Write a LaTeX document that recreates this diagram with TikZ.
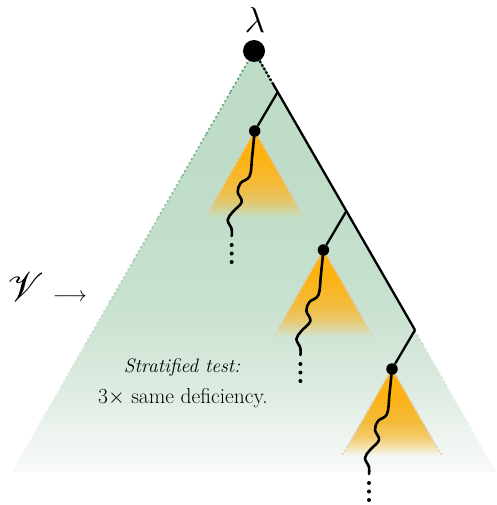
\documentclass[tikz,border=0pt]{standalone}
\usepackage{fix-cm}
\usepackage{mathrsfs}
\usepackage{graphicx}
\usetikzlibrary{calc}
\definecolor{gA}{RGB}{190,220,200}
\definecolor{gB}{RGB}{200,225,208}
\definecolor{gM}{RGB}{218,234,222}
\definecolor{gL}{RGB}{236,243,238}
\definecolor{gC}{RGB}{248,250,248}
\definecolor{gdot}{RGB}{85,155,108}
\definecolor{orA}{RGB}{253,178,18}
\definecolor{orB}{RGB}{244,186,56}
\definecolor{ordot}{RGB}{212,132,24}
\definecolor{greydot}{RGB}{165,170,150}
\definecolor{bgOne}{RGB}{194,222,203}
\definecolor{bgTwo}{RGB}{208,229,214}
\definecolor{bgThree}{RGB}{243,248,243}
\pgfdeclareverticalshading{gfade}{100bp}{color(0bp)=(gC); color(25bp)=(gC); color(30bp)=(gL); color(36bp)=(gM); color(45bp)=(gB); color(62bp)=(gA); color(100bp)=(gA)}
\pgfdeclareverticalshading{ofadeOne}{100bp}{color(0bp)=(bgOne); color(25bp)=(bgOne); color(30bp)=(orB!35!bgOne); color(36bp)=(orB!72!bgOne); color(45bp)=(orB); color(60bp)=(orA); color(100bp)=(orA)}
\pgfdeclareverticalshading{ofadeTwo}{100bp}{color(0bp)=(bgTwo); color(25bp)=(bgTwo); color(30bp)=(orB!35!bgTwo); color(36bp)=(orB!72!bgTwo); color(45bp)=(orB); color(60bp)=(orA); color(100bp)=(orA)}
\pgfdeclareverticalshading{ofadeThree}{100bp}{color(0bp)=(bgThree); color(25bp)=(bgThree); color(30bp)=(orB!35!bgThree); color(36bp)=(orB!72!bgThree); color(45bp)=(orB); color(60bp)=(orA); color(100bp)=(orA)}
\newcommand{\fadeedge}[5]{%
  \foreach \k in {0,...,9}{%
    \pgfmathsetmacro\fdA{\k/10}%
    \pgfmathsetmacro\fdB{(\k+1)/10}%
    \pgfmathtruncatemacro\fdM{100-\k*100/9}%
    \draw[#5, color=#3!\fdM!#4] ($(#1)!\fdA!(#2)$) -- ($(#1)!\fdB!(#2)$);
  }}
\tikzset{
  spine/.style={line width=2.3pt},
  spinedots/.style={line width=2.3pt, dash pattern=on 2.2pt off 2pt},
  wavy/.style={line width=2.6pt, line cap=round, line join=round},
  bigdot/.style={circle, fill=black, inner sep=0pt, minimum size=22pt},
  smalldot/.style={circle, fill=black, inner sep=0pt, minimum size=11.5pt},
  gedge/.style={line width=2.5pt, line cap=round, dash pattern=on 0pt off 4.6pt},
  oedge/.style={line width=2.2pt, line cap=round, dash pattern=on 0pt off 3.9pt},
}
\begin{document}
\begin{tikzpicture}[x=1pt,y=-1pt]
\useasboundingbox (0,0) rectangle (496,505);
% geometry
\coordinate (apex) at (254,51);
\coordinate (bl) at (12,472);
\coordinate (br) at (496,472);
\coordinate (c0) at (272.5,83);
\coordinate (b1) at (277.7,92);
\coordinate (b2) at (346.4,211);
\coordinate (b3) at (415,330);
\coordinate (p1) at (254.7,131);
\coordinate (p2) at (323.4,250);
\coordinate (p3) at (392,369);
\foreach \i in {1,2,3} {
  \coordinate (l\i) at ($(p\i)+(-50,87)$);
  \coordinate (r\i) at ($(p\i)+(50,87)$);
}
% big triangle
\shade[shading=gfade] (apex) -- (bl) -- (br) -- cycle;
\fadeedge{apex}{bl}{gdot}{gC}{gedge}
\fadeedge{apex}{br}{gdot}{gC}{gedge}
% small triangles
\shade[shading=ofadeOne] (p1) -- (l1) -- (r1) -- cycle;
\shade[shading=ofadeTwo] (p2) -- (l2) -- (r2) -- cycle;
\shade[shading=ofadeThree] (p3) -- (l3) -- (r3) -- cycle;
\foreach \i in {1,2,3} {
  \fadeedge{p\i}{l\i}{ordot}{greydot!50!white}{oedge}
  \fadeedge{p\i}{r\i}{ordot}{greydot!50!white}{oedge}
}
% nodes
\node[bigdot] (root) at (apex) {};
\node[smalldot] (n1) at (p1) {};
\node[smalldot] (n2) at (p2) {};
\node[smalldot] (n3) at (p3) {};
\node (lam) at (255,20) {\scalebox{3.0}{\fontsize{12}{14}\selectfont$\lambda$}};
% spine
\draw[spinedots] (root) -- (c0);
\draw[spine] (c0) -- (b3);
\draw[spine] (b1) -- (n1);
\draw[spine] (b2) -- (n2);
\draw[spine] (b3) -- (n3);
% wavy lines and dots
\foreach \i in {1,2,3} {
  \begin{scope}[shift={(n\i.center)}]
    \draw[wavy] plot[smooth, tension=0.6] coordinates {(0,0) (-2.5,25) (-5,45) (-14,52) (-17,61) (-13,71) (-22,81) (-27,89) (-23,98) (-23,105)};
    \fill (-23,114) circle (2pt) (-23,122.5) circle (2pt) (-23,131) circle (2pt);
  \end{scope}
}
% labels
\node (vlab) at (47,287) {\scalebox{4.1}{$\mathscr{V}$}\hspace{9pt}\scalebox{2.1}{$\longrightarrow$}};
\node[font=\fontsize{19.5}{22}\selectfont\itshape, anchor=base] (t1) at (182,372) {Stratified test:};
\node[font=\fontsize{21.5}{24}\selectfont, anchor=base] (t2) at (183,403) {3$\times$ same deficiency.};
\end{tikzpicture}
\end{document}
